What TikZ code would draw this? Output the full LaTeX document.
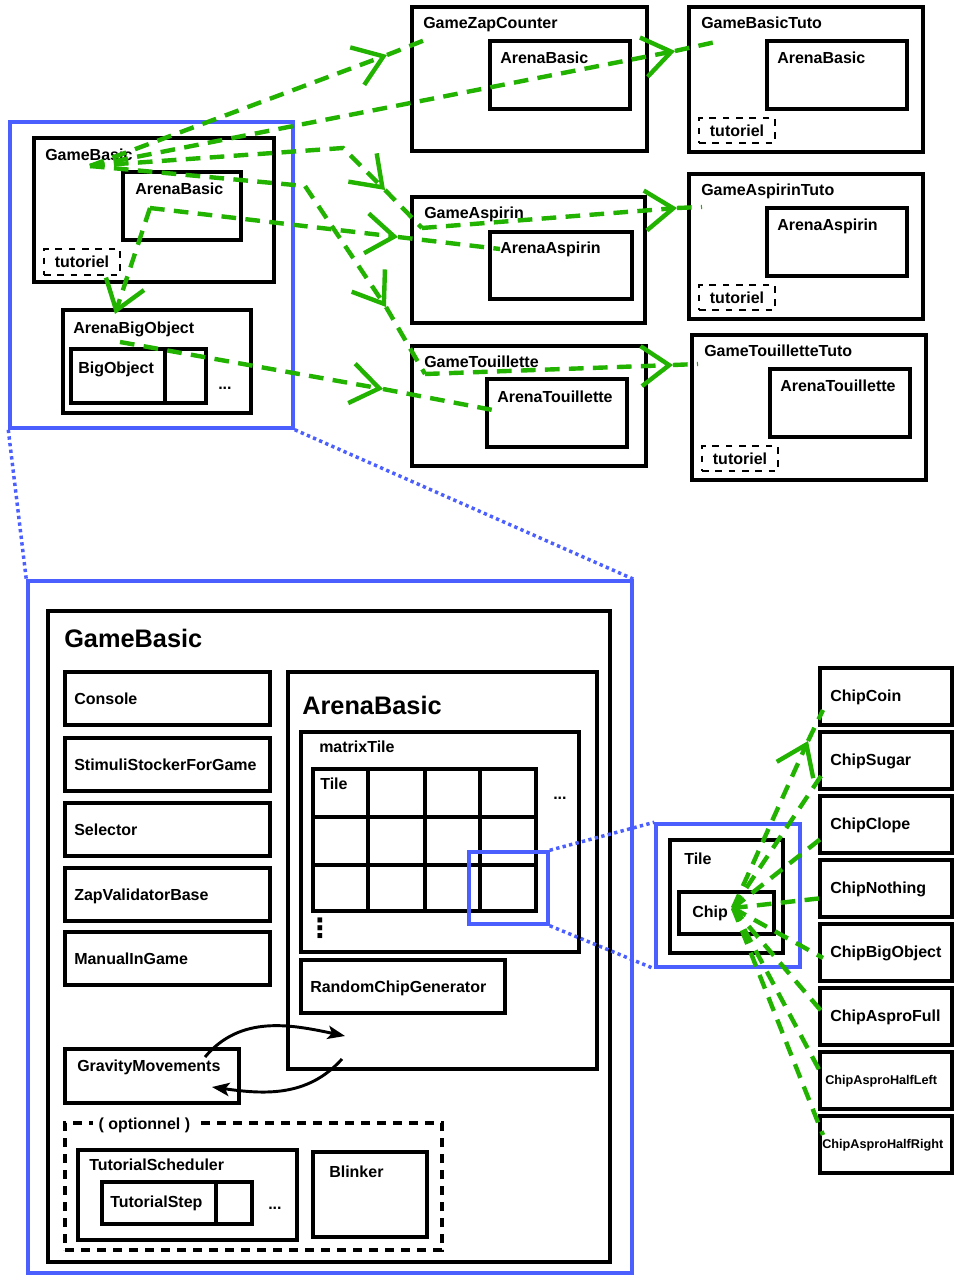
\documentclass[tikz,border=0pt]{standalone}
\usepackage{fontspec}
\setmainfont{Liberation Sans}
\newfontfamily\symfont{DejaVu Sans}
\usetikzlibrary{arrows.meta,fit}
\definecolor{zoomblue}{RGB}{75,95,255}
\definecolor{inhgreen}{RGB}{34,178,0}
\begin{document}
\begin{tikzpicture}[x=0.75pt, y=-0.75pt,
    box/.style={draw, line width=2.5pt, inner sep=0pt},
    tutobox/.style={draw, line width=2.2pt, dash pattern=on 5pt off 5pt, inner sep=0pt},
    optbox/.style={draw, line width=2.4pt, dash pattern=on 7pt off 5pt, inner sep=0pt},
    zoombox/.style={draw=zoomblue, line width=2.6pt, inner sep=0pt},
    zoomlink/.style={zoomblue, line width=2.6pt, dash pattern=on 2.5pt off 2.5pt},
    lbl/.style={anchor=west, inner sep=0pt, text height=8.6pt, text depth=0pt, font=\bfseries\fontsize{12}{14}\selectfont},
    bigl/.style={lbl, text height=13.6pt, font=\bfseries\fontsize{19}{22}\selectfont},
    smalll/.style={lbl, text height=6.8pt, font=\bfseries\fontsize{9.5}{11}\selectfont},
    inh/.style={inhgreen, line width=3.3pt, dash pattern=on 11pt off 7pt},
    inharrow/.style={inh, -{Straight Barb[length=21pt, width=30pt]}},
    flow/.style={line width=2.2pt, -{Stealth[length=13pt, width=10pt, inset=3pt]}}]
\fill[white] (0,0) rectangle (960,1280);
\useasboundingbox (0,0) rectangle (960,1280);

% GameBasic, small
\node[zoombox, fit={(10,122) (293,428)}] (zTop) {};
\node[box, fit={(34,138) (274,282)}] (gbSmall) {};
\node[lbl] (gbSmallL) at (45,155) {GameBasic};
\node[box, fit={(123,172) (241,240)}] (abSmall) {};
\node[lbl] (abSmallL) at (135,189) {ArenaBasic};
\node[tutobox, fit={(44,249) (120,275)}] (tutA) {};
\node[lbl, anchor=center] (tutAL) at (tutA) {tutoriel};
\node[box, fit={(63,310) (251,413)}] (abig) {};
\node[lbl] (abigL) at (73,328) {ArenaBigObject};
\node[box, fit={(71,349) (206,403)}] (bigObj) {};
\node[lbl] (bigObjL) at (78,368) {BigObject};
\draw[line width=2.5pt] (165,349) -- (165,403);
\node[lbl] (abigDots) at (218,384) {...};

% games
\node[box, fit={(412,7) (647,151)}] (gZap) {};
\node[lbl] (gZapL) at (423,23) {GameZapCounter};
\node[box, fit={(490,41) (630,109)}] (aZap) {};
\node[lbl] (aZapL) at (500,58) {ArenaBasic};
\node[box, fit={(412,197) (645,323)}] (gAsp) {};
\node[lbl] (gAspL) at (424,213) {GameAspirin};
\node[box, fit={(490,232) (632,299)}] (aAsp) {};
\node[lbl] (aAspL) at (500,248) {ArenaAspirin};
\node[box, fit={(412,346) (646,466)}] (gTou) {};
\node[lbl] (gTouL) at (424,362) {GameTouillette};
\node[box, fit={(487,379) (627,447)}] (aTou) {};
\node[lbl] (aTouL) at (497,397) {ArenaTouillette};

% tutos
\foreach \t/\xo/\yo/\g/\a in {BT/0/0/GameBasicTuto/ArenaBasic, AT/0/167/GameAspirinTuto/ArenaAspirin, TT/3/328/GameTouilletteTuto/ArenaTouillette}
{
\node[box, fit={({689+\xo},{7+\yo}) ({923+\xo},{152+\yo})}] (g\t) {};
\node[lbl] (g\t L) at ({701+\xo},{23+\yo}) {\g};
\node[box, fit={({767+\xo},{41+\yo}) ({907+\xo},{109+\yo})}] (a\t) {};
\node[lbl] (a\t L) at ({777+\xo},{58+\yo}) {\a};
\node[tutobox, fit={({699+\xo},{118+\yo}) ({775+\xo},{143+\yo})}] (tut\t) {};
\node[lbl, anchor=center] (tut\t L) at (tut\t) {tutoriel};
}

% inheritance
\coordinate (gbHub) at (90,166);
\coordinate (abHub) at (150,208);
\coordinate (abigHub) at (120,342);
\coordinate (hZap) at (387,55);   \coordinate (eZap) at (430,38);
\coordinate (hBT) at (675,51);    \coordinate (eBT) at (720,41);
\coordinate (kAsp) at (343,148);  \coordinate (hAsp) at (385,190); \coordinate (eAsp) at (422,228);
\coordinate (kTou) at (305,186);  \coordinate (hTou) at (386,307); \coordinate (eTou) at (425,374);
\coordinate (hAAsp) at (398,237); \coordinate (eAAsp) at (500,249);
\coordinate (hABig) at (115,314);
\coordinate (hATou) at (383,389); \coordinate (eATou) at (498,411);
\coordinate (hAT) at (677,208);   \coordinate (eAT) at (702,207);
\coordinate (hTT) at (673,365);   \coordinate (eTT) at (698,364);
\foreach \s/\h/\e in {gbHub/hZap/eZap, gbHub/hBT/eBT, abHub/hAAsp/eAAsp, abigHub/hATou/eATou, eAsp/hAT/eAT, eTou/hTT/eTT}
{
\draw[inharrow] (\s) -- (\h);
\draw[inh] (\h) -- (\e);
}
\draw[inharrow] (gbHub) -- (kAsp) -- (hAsp);
\draw[inh] (hAsp) -- (eAsp);
\draw[inharrow] (gbHub) -- (kTou) -- (hTou);
\draw[inh] (hTou) -- (eTou);
\draw[inharrow] (abHub) -- (hABig);

% GameBasic, detail
\node[zoombox, fit={(28,581) (632,1273)}] (zBot) {};
\draw[zoomlink] (zTop.south west) -- (zBot.north west);
\draw[zoomlink] (zTop.south east) -- (zBot.north east);
\node[box, fit={(48,611) (610,1262)}] (gbBig) {};
\node[bigl] (gbBigL) at (64,638) {GameBasic};
\foreach \n/\y [count=\i] in {Console/672, StimuliStockerForGame/738, Selector/803, ZapValidatorBase/868, ManualInGame/932}
{
\pgfmathsetmacro\yb{\y+53}
\pgfmathsetmacro\yc{\y+27}
\node[box, fit={(65,\y) (270,\yb)}] (part\i) {};
\node[lbl] (part\i L) at (74,\yc) {\n};
}
\node[box, fit={(288,672) (597,1069)}] (abBig) {};
\node[bigl] (abBigL) at (302,705) {ArenaBasic};
\node[box, fit={(301,732) (579,952)}] (mtx) {};
\node[lbl] (mtxL) at (319,747) {matrixTile};
\node[box, fit={(313,769) (536,911)}] (tiles) {};
\foreach \x in {368,425,480}
\draw[line width=2.5pt] (\x,769) -- (\x,911);
\foreach \y in {817,865}
\draw[line width=2.5pt] (313,\y) -- (536,\y);
\node[lbl] (tilesL) at (320,784) {Tile};
\node[lbl] (mtxDots) at (553,794) {...};
\node[inner sep=0pt, font=\symfont\bfseries\fontsize{20}{22}\selectfont] (mtxVdots) at (320,928) {⋮};
\node[zoombox, fit={(469,852) (548,924)}] (zTile) {};
\node[box, fit={(301,960) (505,1013)}] (rcg) {};
\node[lbl] (rcgL) at (310,987) {RandomChipGenerator};
\node[box, fit={(65,1049) (239,1103)}] (grav) {};
\node[lbl] (gravL) at (77,1066) {GravityMovements};
\coordinate (gravOut) at (205,1057);
\coordinate (rcgIn) at (345,1036);
\coordinate (rcgOut) at (342,1059);
\coordinate (gravIn) at (212,1087);
\draw[flow] (gravOut) to[out=50, in=168] (rcgIn);
\draw[flow] (rcgOut) to[out=228, in=-8] (gravIn);
\node[optbox, fit={(65,1123) (442,1250)}] (opt) {};
\node[lbl, fill=white, inner xsep=4pt] (optL) at (93,1124) {( optionnel )};
\node[box, fit={(78,1150) (297,1240)}] (tsch) {};
\node[lbl] (tschL) at (89,1165) {TutorialScheduler};
\node[box, fit={(102,1182) (252,1224)}] (tstep) {};
\node[lbl] (tstepL) at (110,1202) {TutorialStep};
\draw[line width=2.5pt] (216,1182) -- (216,1224);
\node[lbl] (tschDots) at (268,1204) {...};
\node[box, fit={(313,1152) (427,1237)}] (blink) {};
\node[lbl] (blinkL) at (329,1172) {Blinker};

% Tile and chips
\node[zoombox, fit={(656,824) (800,967)}] (zChip) {};
\draw[zoomlink] (zTile.north east) -- (zChip.north west);
\draw[zoomlink] (zTile.south east) -- (zChip.south west);
\node[box, fit={(670,840) (783,953)}] (tileR) {};
\node[lbl] (tileRL) at (684,859) {Tile};
\node[box, fit={(679,892) (774,934)}] (chip) {};
\node[lbl] (chipL) at (692,912) {Chip};
\coordinate (chipHub) at (733,908);
\foreach \n/\t/\d/\s/\lx [count=\i from 0] in {cCoin/ChipCoin/42/lbl/830, cSugar/ChipSugar/41/lbl/830, cClope/ChipClope/41/lbl/830, cNothing/ChipNothing/38/lbl/830, cBig/ChipBigObject/34/lbl/830, cFull/ChipAsproFull/25/lbl/830, cLeft/ChipAsproHalfLeft/25/smalll/825, cRight/ChipAsproHalfRight/19/smalll/822}
{
\pgfmathsetmacro\yt{668+64*\i}
\pgfmathsetmacro\yb{\yt+57}
\pgfmathsetmacro\yc{\yt+28}
\pgfmathsetmacro\ye{\yt+\d}
\node[box, fit={(820,\yt) (952,\yb)}] (\n) {};
\node[\s] (\n L) at (\lx,\yc) {\t};
\coordinate (\n E) at (823,\ye);
}
\foreach \n in {cSugar,cClope,cNothing,cBig,cFull,cLeft,cRight}
\draw[inh] (chipHub) -- (\n E);
\coordinate (hCoin) at (808,741);
\draw[inharrow] (chipHub) -- (hCoin);
\draw[inh] (hCoin) -- (cCoinE);
\end{tikzpicture}
\end{document}
